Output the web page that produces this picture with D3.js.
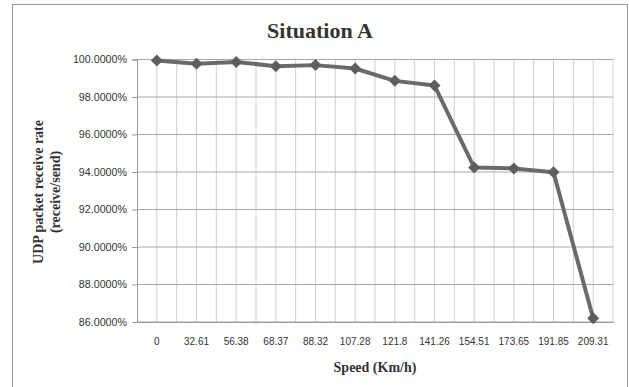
<!DOCTYPE html>
<html>
<head>
<meta charset="utf-8">
<script src="https://cdn.jsdelivr.net/npm/d3@7"></script>
<style>
  body { margin: 0; background: #fff; }
  text { fill: #333; }
</style>
</head>
<body>
<div class="canvas"></div>
<script>
// chart values
const speeds = ['0', '32.61', '56.38', '68.37', '88.32', '107.28', '121.8', '141.26', '154.51', '173.65', '191.85', '209.31'];
const receiveRate = [99.95, 99.77, 99.87, 99.64, 99.70, 99.52, 98.86, 98.61, 94.24, 94.19, 93.99, 86.20];
const yTicks = [86, 88, 90, 92, 94, 96, 98, 100];

const svg = d3.select('.canvas')
    .append('svg')
    .attr('width', 629)
    .attr('height', 387);

// outer chart frame
svg.append('rect')
    .attr('x', 12.5).attr('y', 4.5)
    .attr('width', 615).attr('height', 400)
    .attr('fill', '#fff')
    .attr('stroke', '#999');

const plotLeft = 137, plotRight = 613, plotTop = 59.5, plotBottom = 322;

const x = d3.scaleBand()
    .domain(speeds)
    .range([plotLeft, plotRight]);

const y = d3.scaleLinear()
    .domain([86, 100])
    .range([plotBottom, plotTop]);

// vertical grid: category edges and centres
const vlines = [];
speeds.forEach(s => {
    vlines.push(x(s) + x.bandwidth() / 2);
    vlines.push(x(s) + x.bandwidth());
});
svg.selectAll('.vgrid')
    .data(vlines)
    .enter()
    .append('line')
    .attr('x1', d => d).attr('x2', d => d)
    .attr('y1', plotTop).attr('y2', plotBottom)
    .attr('stroke', '#cfcfcf');

// horizontal grid
svg.selectAll('.hgrid')
    .data(yTicks)
    .enter()
    .append('line')
    .attr('x1', plotLeft).attr('x2', plotRight)
    .attr('y1', d => y(d)).attr('y2', d => y(d))
    .attr('stroke', '#a8a8a8');

// y axis
const yAxis = svg.append('g')
    .attr('transform', `translate(${plotLeft},0)`)
    .call(d3.axisLeft(y).tickValues(yTicks).tickSize(5).tickPadding(5)
        .tickFormat(d => d.toFixed(4) + '%'));
yAxis.select('.domain').attr('stroke', '#999');
yAxis.selectAll('.tick line').attr('stroke', '#999');
yAxis.selectAll('text')
    .attr('font-family', 'Liberation Sans, Arial, sans-serif')
    .attr('font-size', 10.7)
    .attr('fill', '#555');

// x axis
const xAxis = svg.append('g')
    .attr('transform', `translate(0,${plotBottom})`)
    .call(d3.axisBottom(x).tickSize(0).tickPadding(16));
xAxis.select('.domain').attr('stroke', '#999');
xAxis.selectAll('text')
    .attr('font-family', 'Liberation Sans, Arial, sans-serif')
    .attr('font-size', 10)
    .attr('fill', '#555');

// line
const line = d3.line()
    .x((d, i) => x(speeds[i]) + x.bandwidth() / 2)
    .y(d => y(d));

svg.append('path')
    .datum(receiveRate)
    .attr('d', line)
    .attr('fill', 'none')
    .attr('stroke', '#6a6a6a')
    .attr('stroke-width', 4)
    .attr('stroke-linejoin', 'round');

// square markers turned 45 degrees
svg.selectAll('.pt')
    .data(receiveRate)
    .enter()
    .append('path')
    .attr('d', d3.symbol(d3.symbolSquare, 72))
    .attr('transform', (d, i) => `translate(${x(speeds[i]) + x.bandwidth() / 2},${y(d)}) rotate(45)`)
    .attr('fill', '#5e5e5e');

// titles
svg.append('text')
    .attr('x', 320).attr('y', 38)
    .attr('text-anchor', 'middle')
    .attr('font-family', 'Liberation Serif, Times New Roman, serif')
    .attr('font-weight', 'bold')
    .attr('font-size', 22)
    .attr('fill', '#111')
    .text('Situation A');

svg.append('text')
    .attr('x', (plotLeft + plotRight) / 2).attr('y', 372)
    .attr('text-anchor', 'middle')
    .attr('font-family', 'Liberation Serif, Times New Roman, serif')
    .attr('font-weight', 'bold')
    .attr('font-size', 14)
    .attr('fill', '#222')
    .text('Speed (Km/h)');

const yTitle = svg.append('text')
    .attr('transform', 'translate(43,192) rotate(-90)')
    .attr('text-anchor', 'middle')
    .attr('font-family', 'Liberation Serif, Times New Roman, serif')
    .attr('font-weight', 'bold')
    .attr('font-size', 14)
    .attr('fill', '#222');
yTitle.append('tspan').attr('x', 0).attr('dy', 0).text('UDP packet receive rate');
yTitle.append('tspan').attr('x', 0).attr('dy', 17).text('(receive/send)');
</script>
</body>
</html>
